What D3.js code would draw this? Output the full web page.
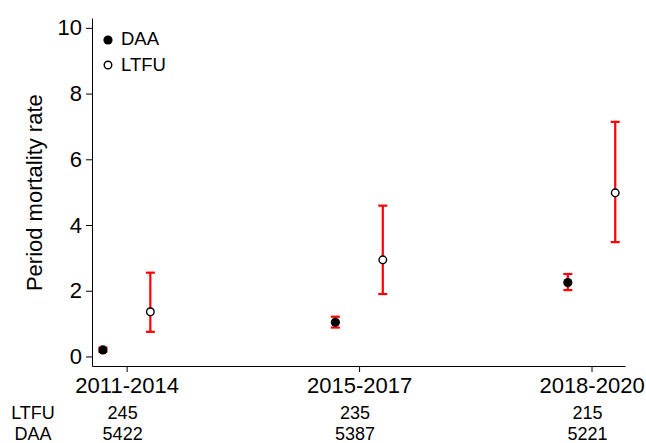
<!DOCTYPE html>
<html>
<head>
<meta charset="utf-8">
<script src="https://cdn.jsdelivr.net/npm/d3@7"></script>
<style>
  html, body { margin: 0; padding: 0; background: #fff; }
  svg text { font-family: "Liberation Sans", Arial, sans-serif; fill: #000; }
</style>
</head>
<body>
<svg id="chart" width="646" height="443"></svg>
<script>
// ---- data ----
const periods = ["2011-2014", "2015-2017", "2018-2020"];
const daaRate  = [0.20, 1.04, 2.25];
const daaLow   = [0.14, 0.88, 2.02];
const daaHigh  = [0.27, 1.21, 2.51];
const ltfuRate = [1.36, 2.94, 4.98];
const ltfuLow  = [0.75, 1.90, 3.48];
const ltfuHigh = [2.55, 4.59, 7.14];
const ltfuN = [245, 235, 215];
const daaN  = [5422, 5387, 5221];
const yTicks = [0, 2, 4, 6, 8, 10];
const seriesNames = ["DAA", "LTFU"];

const svg = d3.select("#chart");
const x = d3.scaleLinear().domain([-0.149, 2.144]).range([92, 625]);
const y = d3.scaleLinear().domain([-0.29, 10.3]).range([366, 18]);
const dodge = 0.102;

// axes
const yAxis = d3.axisLeft(y).tickValues(yTicks).tickSize(6).tickSizeOuter(0).tickPadding(4);
const gy = svg.append("g").attr("transform", `translate(${x.range()[0]},0)`).call(yAxis);
const xAxis = d3.axisBottom(x).tickValues([0, 1, 2]).tickFormat(i => periods[i])
  .tickSize(6).tickSizeOuter(0).tickPadding(5);
const gx = svg.append("g").attr("transform", `translate(0,${y.range()[0]})`).call(xAxis);
[gx, gy].forEach(g => {
  g.selectAll("path, line").attr("stroke", "#000").attr("stroke-width", 1);
  g.selectAll("text").style("font-size", "22px").style("font-family", "Liberation Sans, Arial, sans-serif");
});

// y title
svg.append("text")
  .attr("transform", `translate(41.5,${(y(0) + y(10)) / 2 + 0.5}) rotate(-90)`)
  .attr("text-anchor", "middle")
  .style("font-size", "22px")
  .text("Period mortality rate");

// error bars
function errBars(lo, hi, off) {
  const g = svg.append("g").attr("stroke", "#ff0000").attr("stroke-width", 2.2);
  periods.forEach((p, i) => {
    const cx = x(i + off);
    g.append("line").attr("x1", cx).attr("x2", cx).attr("y1", y(lo[i])).attr("y2", y(hi[i]));
    [lo[i], hi[i]].forEach(v => {
      g.append("line").attr("x1", cx - 4.5).attr("x2", cx + 4.5).attr("y1", y(v)).attr("y2", y(v));
    });
  });
}
errBars(daaLow, daaHigh, -dodge);
errBars(ltfuLow, ltfuHigh, dodge);

// markers
svg.append("g").selectAll("circle").data(daaRate).join("circle")
  .attr("cx", (d, i) => x(i - dodge)).attr("cy", d => y(d)).attr("r", 4.6).attr("fill", "#000");
svg.append("g").selectAll("circle").data(ltfuRate).join("circle")
  .attr("cx", (d, i) => x(i + dodge)).attr("cy", d => y(d)).attr("r", 3.8)
  .attr("fill", "#fff").attr("stroke", "#000").attr("stroke-width", 1.4);

// legend
const lg = svg.append("g");
lg.append("circle").attr("cx", 108).attr("cy", 40).attr("r", 4.6).attr("fill", "#000");
lg.append("text").attr("x", 121).attr("y", 44.5).style("font-size", "18.5px").text(seriesNames[0]);
lg.append("circle").attr("cx", 108).attr("cy", 65).attr("r", 3.8).attr("fill", "#fff")
  .attr("stroke", "#000").attr("stroke-width", 1.4);
lg.append("text").attr("x", 121).attr("y", 70.5).style("font-size", "18.5px").text(seriesNames[1]);

// counts table
const rows = [["LTFU", ltfuN, 418.5], ["DAA", daaN, 439.5]];
rows.forEach(([name, vals, yy]) => {
  svg.append("text").attr("x", 33).attr("y", yy).attr("text-anchor", "middle")
    .style("font-size", "18px").text(name);
  svg.append("g").selectAll("text").data(vals).join("text")
    .attr("x", (d, i) => x(i) - 4).attr("y", yy).attr("text-anchor", "middle")
    .style("font-size", "18px").text(d => d);
});
</script>
</body>
</html>
